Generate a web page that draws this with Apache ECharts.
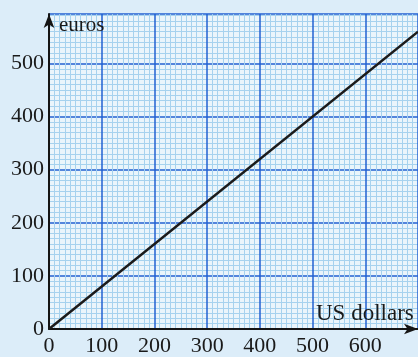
<!DOCTYPE html>
<html>
<head>
<meta charset="utf-8">
<script src="https://cdn.jsdelivr.net/npm/echarts@6/dist/echarts.min.js"></script>
<style>
  html, body { margin: 0; padding: 0; background: #dcedf9; }
  #chart { width: 418px; height: 357px; }
</style>
</head>
<body>
<div id="chart"></div>
<script>
// Conversion line: US dollars -> euros
const usDollars = [0, 700];
const euros = [0, 560];

// Axis ranges and tick spacing
const xMax = 700;
const yMax = 593;
const tickStep = 100;

const serif = '"Liberation Serif", "DejaVu Serif", serif';
const majorBlue = '#2260d2';
const minorBlue = '#a6d2ee';

const chart = echarts.init(document.getElementById('chart'));
chart.setOption({
  backgroundColor: '#dcedf9',
  animation: false,
  grid: {
    left: 49, right: -2, top: 329 - yMax * 0.531, bottom: 28,
    show: true, backgroundColor: '#eaf5fb', borderWidth: 0
  },
  xAxis: {
    type: 'value', min: 0, max: xMax, interval: tickStep,
    name: 'US dollars', nameLocation: 'end', nameGap: -102,
    nameTextStyle: {
      fontFamily: serif, fontSize: 23, color: '#1a1a1a',
      align: 'left', verticalAlign: 'bottom', padding: [0, 0, 4, 0]
    },
    axisLine: {
      show: true, symbol: ['none', 'arrow'], symbolSize: [8, 14],
      lineStyle: { color: '#151515', width: 2 }
    },
    axisTick: { show: false },
    axisLabel: {
      fontFamily: serif, fontSize: 22, color: '#1a1a1a', margin: 6,
      showMaxLabel: false
    },
    splitLine: { show: true, lineStyle: { color: majorBlue, width: 1.5 } },
    minorTick: { show: false, splitNumber: 10 },
    minorSplitLine: { show: true, lineStyle: { color: minorBlue, width: 1 } }
  },
  yAxis: {
    type: 'value', min: 0, max: yMax, interval: tickStep,
    name: 'euros', nameLocation: 'end', nameGap: -11,
    nameTextStyle: {
      fontFamily: serif, fontSize: 21, color: '#1a1a1a',
      align: 'left', verticalAlign: 'middle', padding: [0, 0, 0, 10]
    },
    axisLine: {
      show: true, symbol: ['none', 'arrow'], symbolSize: [8, 14],
      lineStyle: { color: '#151515', width: 2 }
    },
    axisTick: { show: false },
    axisLabel: {
      fontFamily: serif, fontSize: 22, color: '#1a1a1a', margin: 5,
      showMaxLabel: false
    },
    splitLine: { show: true, lineStyle: { color: majorBlue, width: 1.5 } },
    minorTick: { show: false, splitNumber: 10 },
    minorSplitLine: { show: true, lineStyle: { color: minorBlue, width: 1 } }
  },
  series: [{
    type: 'line',
    data: usDollars.map((x, i) => [x, euros[i]]),
    showSymbol: false,
    lineStyle: { color: '#1b1b1b', width: 2.5 },
    z: 5
  }]
});
</script>
</body>
</html>
